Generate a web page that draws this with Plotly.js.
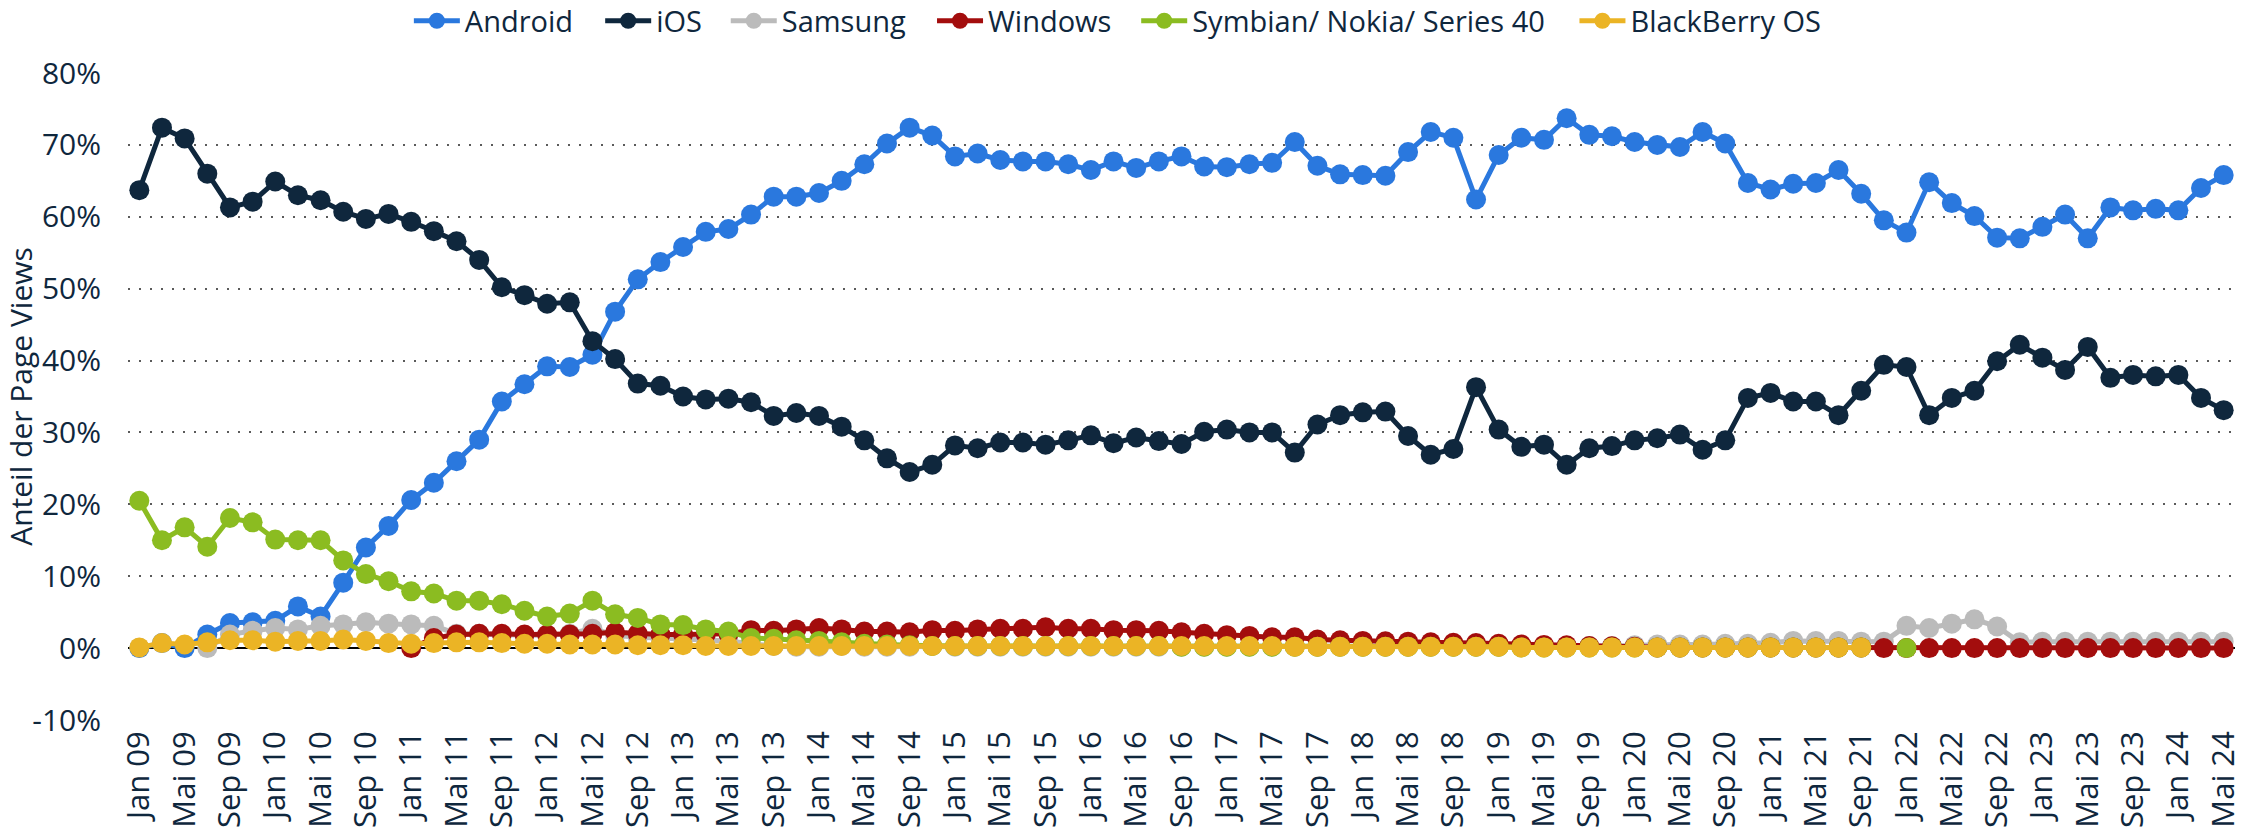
<!DOCTYPE html>
<html><head><meta charset="utf-8">
<script src="https://cdn.plot.ly/plotly-3.0.1.min.js"></script>
<style>html,body{margin:0;padding:0;background:#fff}#chart{width:2247px;height:832px}</style>
</head><body><div id="chart"></div>
<script>
const periods = [
 "Jan 09","Mär 09","Mai 09","Jul 09","Sep 09","Nov 09",
 "Jan 10","Mär 10","Mai 10","Jul 10","Sep 10","Nov 10",
 "Jan 11","Mär 11","Mai 11","Jul 11","Sep 11","Nov 11",
 "Jan 12","Mär 12","Mai 12","Jul 12","Sep 12","Nov 12",
 "Jan 13","Mär 13","Mai 13","Jul 13","Sep 13","Nov 13",
 "Jan 14","Mär 14","Mai 14","Jul 14","Sep 14","Nov 14",
 "Jan 15","Mär 15","Mai 15","Jul 15","Sep 15","Nov 15",
 "Jan 16","Mär 16","Mai 16","Jul 16","Sep 16","Nov 16",
 "Jan 17","Mär 17","Mai 17","Jul 17","Sep 17","Nov 17",
 "Jan 18","Mär 18","Mai 18","Jul 18","Sep 18","Nov 18",
 "Jan 19","Mär 19","Mai 19","Jul 19","Sep 19","Nov 19",
 "Jan 20","Mär 20","Mai 20","Jul 20","Sep 20","Nov 20",
 "Jan 21","Mär 21","Mai 21","Jul 21","Sep 21","Nov 21",
 "Jan 22","Mär 22","Mai 22","Jul 22","Sep 22","Nov 22",
 "Jan 23","Mär 23","Mai 23","Jul 23","Sep 23","Nov 23",
 "Jan 24","Mär 24","Mai 24"
];
const xTickLabels = [
 "Jan 09","Mai 09","Sep 09","Jan 10","Mai 10","Sep 10","Jan 11","Mai 11","Sep 11",
 "Jan 12","Mai 12","Sep 12","Jan 13","Mai 13","Sep 13","Jan 14","Mai 14","Sep 14",
 "Jan 15","Mai 15","Sep 15","Jan 16","Mai 16","Sep 16","Jan 17","Mai 17","Sep 17",
 "Jan 18","Mai 18","Sep 18","Jan 19","Mai 19","Sep 19","Jan 20","Mai 20","Sep 20",
 "Jan 21","Mai 21","Sep 21","Jan 22","Mai 22","Sep 22","Jan 23","Mai 23","Sep 23",
 "Jan 24","Mai 24"
];
const yTickValues = [-10, 0, 10, 20, 30, 40, 50, 60, 70, 80];
const yTickLabels = ["-10%","0%","10%","20%","30%","40%","50%","60%","70%","80%"];

const android = [
 0, 0.7, 0, 1.9, 3.5, 3.6, 3.8, 5.8, 4.4, 9.1,
 14.0, 17.0, 20.6, 23.0, 26.0, 29.0, 34.3, 36.7, 39.2, 39.1,
 40.8, 46.8, 51.3, 53.7, 55.8, 57.9, 58.3, 60.3, 62.8, 62.8,
 63.3, 65.0, 67.3, 70.2, 72.4, 71.3, 68.4, 68.8, 67.9, 67.7,
 67.7, 67.3, 66.5, 67.7, 66.8, 67.7, 68.4, 67.0, 66.9, 67.3,
 67.5, 70.4, 67.1, 65.9, 65.8, 65.7, 69.0, 71.8, 71.0, 62.4,
 68.6, 71.0, 70.7, 73.7, 71.4, 71.2, 70.4, 70.0, 69.7, 71.8,
 70.2, 64.7, 63.8, 64.6, 64.7, 66.5, 63.2, 59.5, 57.8, 64.8,
 61.9, 60.1, 57.1, 57.0, 58.6, 60.3, 57.0, 61.3, 60.9, 61.1,
 60.9, 64.0, 65.8
];
const ios = [
 63.7, 72.4, 70.9, 66.0, 61.3, 62.1, 64.9, 63.0, 62.3, 60.7,
 59.7, 60.4, 59.3, 58.0, 56.6, 54.0, 50.2, 49.1, 47.9, 48.1,
 42.7, 40.2, 36.8, 36.5, 35.0, 34.6, 34.7, 34.2, 32.3, 32.7,
 32.3, 30.8, 28.9, 26.4, 24.5, 25.5, 28.2, 27.8, 28.6, 28.6,
 28.3, 28.9, 29.6, 28.5, 29.3, 28.8, 28.4, 30.1, 30.4, 30.0,
 30.0, 27.2, 31.1, 32.4, 32.8, 32.9, 29.5, 26.9, 27.7, 36.3,
 30.4, 28.0, 28.3, 25.5, 27.8, 28.1, 28.9, 29.2, 29.7, 27.6,
 28.9, 34.8, 35.5, 34.3, 34.3, 32.4, 35.8, 39.4, 39.1, 32.4,
 34.8, 35.8, 39.9, 42.2, 40.4, 38.7, 41.9, 37.6, 38.0, 37.8,
 38.0, 34.8, 33.1
];
const samsung = [
 null, null, null, 0, 1.9, 2.4, 2.8, 2.6, 3.1, 3.3,
 3.6, 3.4, 3.3, 3.1, 2.0, 2.0, 1.9, 1.8, 1.8, 2.0,
 2.7, 1.8, 1.5, 1.4, 1.3, 1.2, 1.0, 0.6, 0.3, 0.2,
 0.2, 0.3, 0.2, 0.2, 0.2, 0.3, 0.2, 0.2, 0.2, 0.2,
 0.2, 0.2, 0.2, 0.2, 0.2, 0.2, 0.2, 0.2, 0.2, 0.2,
 0.2, 0.2, 0.2, 0.2, 0.2, 0.2, 0.2, 0.2, 0.2, 0.2,
 0.2, 0.2, 0.2, 0.3, 0.3, 0.3, 0.4, 0.5, 0.5, 0.5,
 0.6, 0.6, 0.75, 1.0, 1.0, 1.0, 0.9, 0.9, 3.1, 2.8,
 3.4, 4.0, 3.0, 0.8, 0.9, 0.9, 0.9, 0.9, 0.9, 0.9,
 0.9, 0.9, 0.9
];
const windows = [
 null, null, null, null, null, null, null, null, null, null,
 null, null, 0, 1.4, 1.9, 2.0, 2.0, 1.9, 1.9, 1.9,
 2.0, 2.2, 2.0, 1.9, 1.9, 1.9, 2.0, 2.5, 2.4, 2.6,
 2.8, 2.6, 2.3, 2.3, 2.2, 2.5, 2.4, 2.6, 2.7, 2.7,
 2.9, 2.7, 2.7, 2.5, 2.5, 2.4, 2.2, 2.0, 1.8, 1.7,
 1.5, 1.5, 1.2, 1.1, 1.0, 0.95, 0.9, 0.8, 0.75, 0.7,
 0.6, 0.5, 0.45, 0.4, 0.3, 0.25, 0.2, 0.1, 0.1, 0.1,
 0.1, 0.1, 0.1, 0.1, 0.1, 0.1, 0.1, 0, 0, 0,
 0, 0, 0, 0, 0, 0, 0, 0, 0, 0,
 0, 0, 0
];
const symbian = [
 20.5, 15.0, 16.8, 14.1, 18.1, 17.5, 15.1, 15.0, 15.0, 12.2,
 10.3, 9.3, 7.9, 7.6, 6.6, 6.6, 6.1, 5.2, 4.4, 4.8,
 6.6, 4.7, 4.2, 3.3, 3.2, 2.6, 2.3, 1.4, 1.3, 1.1,
 1.0, 0.8, 0.6, 0.5, 0.4, 0.3, 0.3, 0.3, 0.3, 0.3,
 0.3, 0.3, 0.3, 0.3, 0.3, 0.3, 0.2, 0.2, 0.2, 0.2,
 0.2, 0.2, 0.2, 0.2, 0.2, 0.2, 0.2, 0.2, 0.2, 0.2,
 0.2, 0.1, 0.1, 0.1, 0.1, 0.1, 0.1, 0.1, 0.1, 0.1,
 0.1, 0.1, 0.1, 0.1, 0.1, 0.1, 0.1, null, 0, null,
 null, null, null, null, null, null, null, null, null, null,
 null, null, null
];
const blackberry = [
 0.1, 0.7, 0.5, 0.8, 1.1, 1.1, 0.9, 1.0, 1.0, 1.2,
 1.0, 0.7, 0.6, 0.7, 0.8, 0.8, 0.7, 0.6, 0.6, 0.5,
 0.5, 0.5, 0.4, 0.4, 0.4, 0.3, 0.3, 0.3, 0.3, 0.3,
 0.3, 0.3, 0.3, 0.3, 0.3, 0.3, 0.3, 0.3, 0.3, 0.3,
 0.3, 0.3, 0.3, 0.3, 0.3, 0.3, 0.3, 0.3, 0.3, 0.3,
 0.3, 0.2, 0.2, 0.2, 0.2, 0.2, 0.2, 0.2, 0.2, 0.2,
 0.2, 0.1, 0.1, 0.1, 0.1, 0.1, 0.1, 0.1, 0.1, 0.1,
 0.1, 0.1, 0.1, 0.1, 0.1, 0.1, 0.1, null, null, null,
 null, null, null, null, null, null, null, null, null, null,
 null, null, null
];

const seriesNames = ["Android", "iOS", "Samsung", "Windows", "Symbian/ Nokia/ Series 40", "BlackBerry OS"];
const seriesValues = [android, ios, samsung, windows, symbian, blackberry];
const seriesColors = ["#2a78de", "#0f273d", "#bbbbbb", "#a30d0d", "#8bbc21", "#ebb425"];
const legendIds = ["legend", "legend2", "legend3", "legend4", "legend5", "legend6"];
const legendX = [0.1333, 0.2241, 0.2837, 0.3816, 0.4785, 0.6865];

const textColor = "#0f273d";
const fontFamily = "'Open Sans', 'Noto Sans', sans-serif";

const traces = seriesNames.map((name, i) => ({
  type: "scatter",
  mode: "lines+markers",
  name: name,
  legend: legendIds[i],
  x: periods,
  y: seriesValues[i],
  connectgaps: false,
  line: { color: seriesColors[i], width: 5 },
  marker: { color: seriesColors[i], size: 20 },
  cliponaxis: false,
  hoverinfo: "x+y+name"
}));

const layout = {
  width: 2247,
  height: 832,
  margin: { l: 128, r: 12, t: 73, b: 112, pad: 0, autoexpand: false },
  paper_bgcolor: "#ffffff",
  plot_bgcolor: "#ffffff",
  font: { family: fontFamily, size: 29, color: textColor },
  showlegend: true,
  xaxis: {
    type: "category",
    range: [-0.5, 92.5],
    tickmode: "array",
    tickvals: xTickLabels,
    ticktext: xTickLabels,
    tickangle: -90,
    ticks: "",
    ticklabelstandoff: 4,
    showgrid: false,
    zeroline: false,
    showline: false,
    automargin: false,
    tickfont: { family: fontFamily, size: 31, color: textColor },
    fixedrange: true
  },
  yaxis: {
    range: [-10, 80],
    tickmode: "array",
    tickvals: yTickValues,
    ticktext: yTickLabels,
    ticks: "",
    ticklabelstandoff: 26,
    showgrid: true,
    gridcolor: "#5a5a5a",
    gridwidth: 2,
    griddash: "2px,9px",
    zeroline: true,
    zerolinecolor: "#000000",
    zerolinewidth: 2,
    showline: false,
    automargin: false,
    tickfont: { family: fontFamily, size: 30, color: textColor },
    title: { text: "Anteil der Page Views", font: { family: fontFamily, size: 30, color: textColor }, standoff: 0 },
    fixedrange: true
  }
};
legendIds.forEach((id, i) => {
  layout[id] = {
    orientation: "h",
    x: legendX[i], xanchor: "left",
    y: 1.0805, yanchor: "middle",
    font: { family: fontFamily, size: 29, color: textColor },
    itemwidth: 46,
    bgcolor: "rgba(0,0,0,0)",
    borderwidth: 0
  };
});

Plotly.newPlot("chart", traces, layout, { displayModeBar: false, responsive: false });
</script></body></html>
